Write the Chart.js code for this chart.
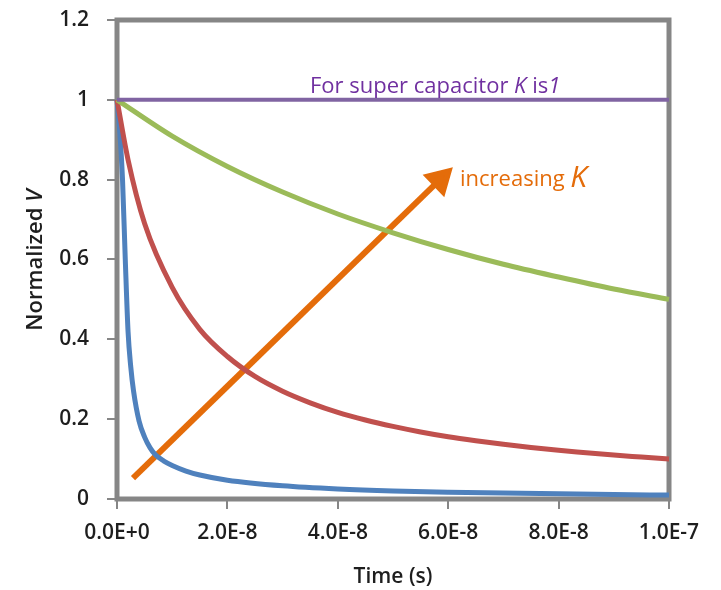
<!DOCTYPE html>
<html>
<head>
<meta charset="utf-8">
<script src="https://cdn.jsdelivr.net/npm/chart.js@4"></script>
<style>
  html, body { margin: 0; padding: 0; background: #fff; }
  #wrap { width: 721px; height: 590px; }
</style>
</head>
<body>
<div id="wrap"><canvas id="chart" width="721" height="590"></canvas></div>
<script>
// values
const blueTime = [0, 0.5e-9, 1e-9, 1.5e-9, 2e-9, 2.5e-9, 3e-9, 4e-9, 5e-9, 6e-9, 7e-9, 8.5e-9, 1e-8, 1.25e-8, 1.5e-8, 2e-8, 3e-8, 4e-8, 5e-8, 6e-8, 7e-8, 8e-8, 9e-8, 1e-7];
const blueV    = [1, 0.92, 0.8, 0.6, 0.42, 0.33, 0.27, 0.195, 0.155, 0.128, 0.11, 0.095, 0.084, 0.07, 0.06, 0.047, 0.033, 0.025, 0.02, 0.017, 0.015, 0.013, 0.011, 0.01];

const redTime = [0, 2e-9, 5e-9, 1e-8, 1.5e-8, 2e-8, 2.5e-8, 3e-8, 3.5e-8, 4e-8, 4.5e-8, 5e-8, 5.5e-8, 6e-8, 6.5e-8, 7e-8, 7.5e-8, 8e-8, 8.5e-8, 9e-8, 9.5e-8, 1e-7];
const redV    = [1, 0.85, 0.69, 0.53, 0.425, 0.357, 0.307, 0.27, 0.241, 0.217, 0.198, 0.182, 0.168, 0.156, 0.146, 0.137, 0.129, 0.122, 0.116, 0.11, 0.105, 0.1];

const greenTime = [0, 1e-8, 2e-8, 3e-8, 4e-8, 5e-8, 6e-8, 7e-8, 8e-8, 9e-8, 1e-7];
const greenV    = [1, 0.909, 0.833, 0.769, 0.714, 0.667, 0.625, 0.588, 0.556, 0.526, 0.5];

const purpleTime = [0, 1e-7];
const purpleV    = [1, 1];

// "increasing K" arrow
const arrowTime = [2.9e-9, 5.85e-8];
const arrowV    = [0.0525, 0.8];

const xTickLabels = ['0.0E+0', '2.0E-8', '4.0E-8', '6.0E-8', '8.0E-8', '1.0E-7'];
const yTickLabels = ['0', '0.2', '0.4', '0.6', '0.8', '1', '1.2'];

const FONT = '"Open Sans", "DejaVu Sans", sans-serif';
const FRAME = '#868686';
const TXT = '#1e1e1e';

function pts(xs, ys) {
    return xs.map((x, i) => ({ x: x, y: ys[i] }));
}

// write pieces of text with mixed styles one after the other
function runs(ctx, parts, x, y) {
    parts.forEach(p => {
        ctx.font = p[1] + ' ' + p[2] + 'px ' + FONT;
        ctx.fillText(p[0], x, y + (p[3] || 0));
        x += ctx.measureText(p[0]).width;
    });
}

// frame box + annotation texts + y title
const decor = {
    id: 'decor',
    beforeDatasetsDraw(chart) {
        const { ctx, chartArea: a } = chart;
        ctx.save();
        ctx.strokeStyle = FRAME;
        ctx.lineWidth = 5;
        ctx.strokeRect(a.left, a.top, a.right - a.left, a.bottom - a.top);
        ctx.restore();
    },
    afterDraw(chart) {
        const { ctx, chartArea: a } = chart;
        const ys = chart.scales.y;
        ctx.save();
        ctx.textBaseline = 'alphabetic';

        ctx.fillStyle = '#7030a0';
        runs(ctx, [
            ['For super capacitor ', 'normal', 22],
            ['K', 'italic', 22],
            [' is', 'normal', 22],
            ['1', 'italic', 22]
        ], 310, ys.getPixelForValue(1) - 7);

        ctx.fillStyle = '#e46c0a';
        runs(ctx, [
            ['increasing ', 'normal', 22],
            ['K', 'italic', 30, 1]
        ], 460, 186);

        // y title, "V" in italic
        ctx.fillStyle = TXT;
        ctx.translate(42, 260);
        ctx.rotate(-Math.PI / 2);
        ctx.font = '600 22px ' + FONT;
        const w1 = ctx.measureText('Normalized ').width;
        ctx.font = 'italic 600 22px ' + FONT;
        const w2 = ctx.measureText('V').width;
        runs(ctx, [
            ['Normalized ', '600', 22],
            ['V', 'italic 600', 22]
        ], -(w1 + w2) / 2, 0);
        ctx.restore();
    }
};

new Chart(document.getElementById('chart'), {
    type: 'scatter',
    data: {
        datasets: [
            { data: pts(purpleTime, purpleV), borderColor: '#8064a2', borderWidth: 4 },
            { data: pts(greenTime, greenV), borderColor: '#9bbb59', borderWidth: 5 },
            { data: pts(redTime, redV), borderColor: '#c0504d', borderWidth: 5 },
            { data: pts(blueTime, blueV), borderColor: '#4f81bd', borderWidth: 5 },
            {
                data: pts(arrowTime, arrowV),
                borderColor: '#e46c0a',
                backgroundColor: '#e46c0a',
                borderWidth: 6,
                pointStyle: 'triangle',
                pointRadius: [0, 12],
                rotation: 46
            }
        ].map(d => Object.assign({
            showLine: true,
            pointRadius: 0,
            cubicInterpolationMode: 'monotone',
            clip: false
        }, d))
    },
    options: {
        responsive: false,
        animation: false,
        layout: { padding: { left: 0, right: 52, top: 20, bottom: 0 } },
        plugins: {
            legend: { display: false },
            tooltip: { enabled: false }
        },
        scales: {
            x: {
                type: 'linear',
                min: 0,
                max: 1e-7,
                afterFit: s => {
                    s.height = 91;
                    s.paddingLeft = 0;
                    s.paddingRight = 0;
                },
                afterBuildTicks: s => {
                    s.ticks = xTickLabels.map((l, i) => ({ value: i * 2e-8 }));
                },
                ticks: {
                    callback: (v, i) => xTickLabels[i],
                    color: TXT,
                    font: { family: FONT, size: 21, weight: '600' },
                    padding: 11,
                    maxRotation: 0
                },
                grid: { drawOnChartArea: false, color: FRAME, lineWidth: 2, tickLength: 10 },
                border: { display: false },
                title: {
                    display: true,
                    text: 'Time (s)',
                    color: TXT,
                    font: { family: FONT, size: 21, weight: '600' },
                    padding: { top: 4, bottom: 0 }
                }
            },
            y: {
                min: 0,
                max: 1.2,
                afterFit: s => {
                    s.width = 117;
                    s.paddingTop = 0;
                    s.paddingBottom = 0;
                },
                afterBuildTicks: s => {
                    s.ticks = yTickLabels.map((l, i) => ({ value: i * 0.2 }));
                },
                ticks: {
                    callback: (v, i) => yTickLabels[i],
                    color: TXT,
                    font: { family: FONT, size: 21, weight: '600' },
                    padding: 18
                },
                grid: { drawOnChartArea: false, color: FRAME, lineWidth: 2, tickLength: 10 },
                border: { display: false }
            }
        }
    },
    plugins: [decor]
});
</script>
</body>
</html>
